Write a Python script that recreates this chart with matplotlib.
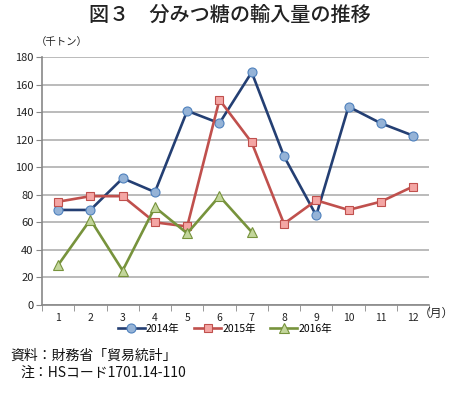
import matplotlib
matplotlib.use("Agg")
import matplotlib.pyplot as plt

plt.rcParams['font.family'] = ['Noto Sans CJK JP', 'DejaVu Sans']

months = list(range(1, 13))
month_labels = [str(m) for m in months]
v2014 = [69, 69, 92, 82, 141, 132, 169, 108, 65, 144, 132, 123]
v2015 = [75, 79, 79, 60, 57, 149, 118, 59, 76, 69, 75, 86]
v2016 = [29, 62, 25, 71, 52, 79, 53]
series_names = ['2014年', '2015年', '2016年']
yticks = list(range(0, 181, 20))

fig = plt.figure(figsize=(4.59, 3.94), dpi=100)
ax = fig.add_axes([0.0915, 0.226, 0.8435, 0.629])

styles = [
    dict(color='#243F73', marker='o', mfc='#95B3D7', mec='#4F81BD', ms=6.5),
    dict(color='#C0504D', marker='s', mfc='#F4A6A4', mec='#C0504D', ms=6),
    dict(color='#77933C', marker='^', mfc='#C3D69B', mec='#77933C', ms=7),
]
data = [v2014, v2015, v2016]
for vals, st, name in zip(data, styles, series_names):
    ax.plot(months[:len(vals)], vals, lw=1.9, mew=0.8, label=name, zorder=3, **st)

ax.set_xlim(0.5, 12.5)
ax.set_ylim(0, 180)
ax.set_yticks(yticks)
ax.set_yticklabels([str(t) for t in yticks], fontsize=8, color='#222222')
ax.set_xticks(months)
ax.set_xticklabels(month_labels, fontsize=7.5, color='#222222')
ax.tick_params(axis='x', length=0, pad=6)
ax.set_xticks([m + 0.5 for m in range(0, 13)], minor=True)
ax.tick_params(axis='x', which='minor', length=4, color='#888888', direction='out')
ax.tick_params(axis='y', length=4, color='#888888', direction='out', pad=2)
ax.grid(axis='y', color='#A8A8A8', lw=1.1)
ax.set_axisbelow(True)
for s in ['top', 'right']:
    ax.spines[s].set_visible(False)
for s in ['left', 'bottom']:
    ax.spines[s].set_color('#888888')
    ax.spines[s].set_linewidth(1.2)

fig.text(0.5, 0.962, '図３　分みつ糖の輸入量の推移', ha='center', va='center',
         fontsize=14.5, fontweight='medium', color='#222222')
fig.text(0.078, 0.893, '（千トン）', ha='left', va='center', fontsize=7.5, color='#222222')
fig.text(0.912, 0.205, '（月）', ha='left', va='center', fontsize=8.5, color='#222222')

leg = fig.legend(loc='center', bbox_to_anchor=(0.49, 0.166), ncol=3, frameon=False,
                 fontsize=7.5, handlelength=2.6, columnspacing=1.4, handletextpad=0.1)

fig.text(0.022, 0.098, '資料：財務省「貿易統計」', ha='left', va='center', fontsize=10, color='#111111')
fig.text(0.045, 0.054, '注：HSコード1701.14-110', ha='left', va='center', fontsize=10, color='#111111')

fig.savefig('out.png', dpi=100)
